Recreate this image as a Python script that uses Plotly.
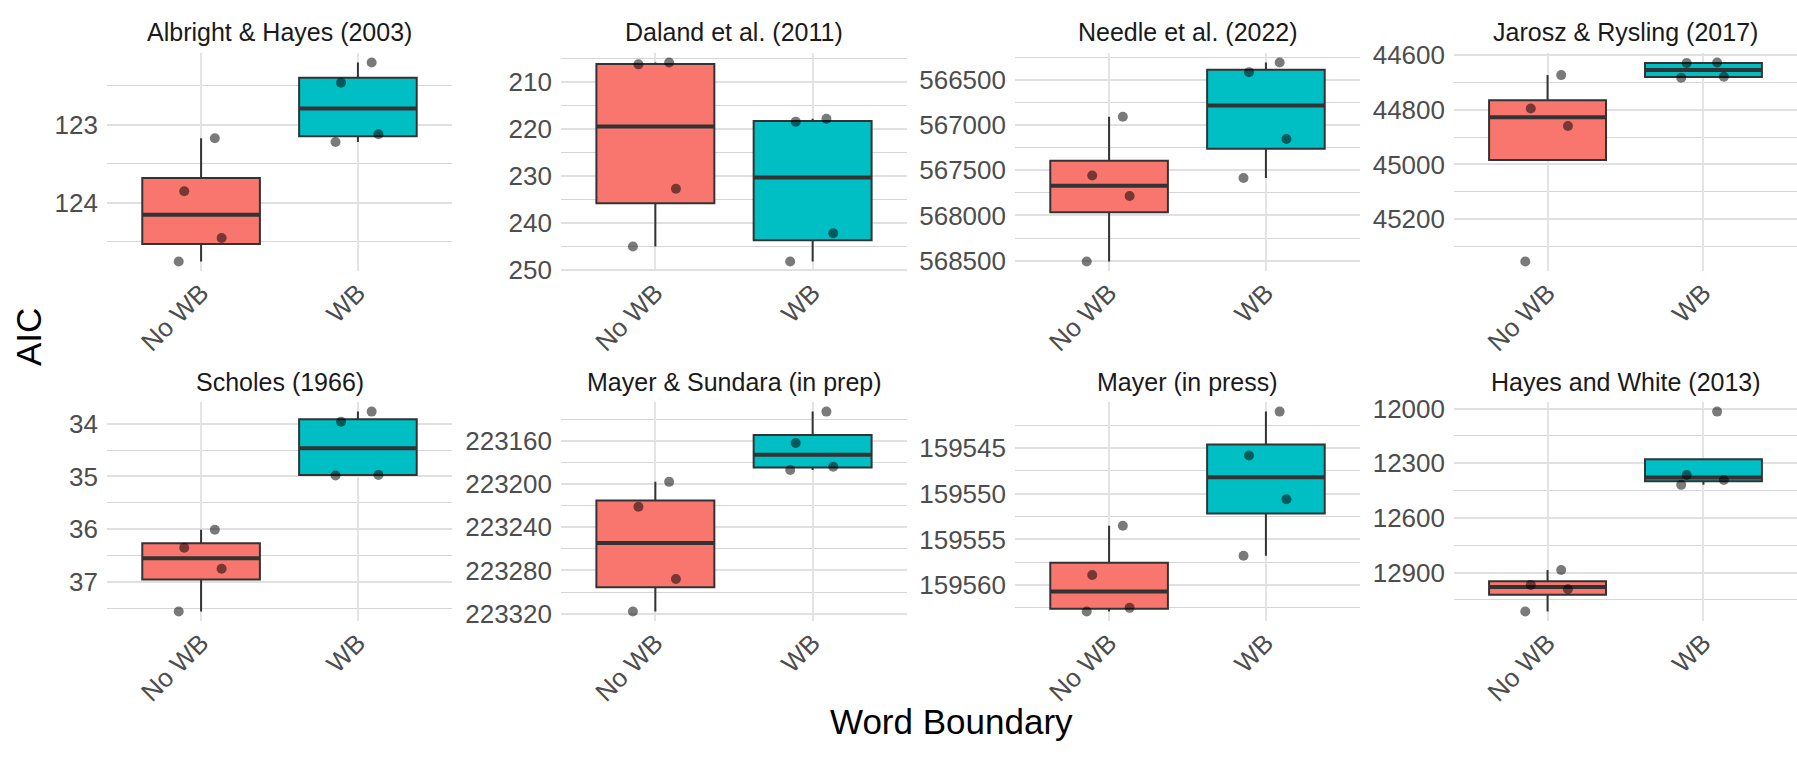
import numpy as np
import plotly.graph_objects as go

# ---------------- data ----------------
studies = [
    "Albright & Hayes (2003)", "Daland et al. (2011)", "Needle et al. (2022)",
    "Jarosz & Rysling (2017)", "Scholes (1966)", "Mayer & Sundara (in prep)",
    "Mayer (in press)", "Hayes and White (2013)",
]
groups = ["No WB", "WB"]

albright_no_wb = [123.17, 123.85, 124.45, 124.75]
albright_wb = [122.20, 122.46, 123.12, 123.22]
daland_no_wb = [205.8, 206.2, 232.7, 245.0]
daland_wb = [217.8, 218.4, 242.2, 248.2]
needle_no_wb = [566907, 567557, 567784, 568510]
needle_wb = [566305, 566412, 567152, 567584]
jarosz_no_wb = [44674, 44796, 44860, 45354]
jarosz_wb = [44628, 44630, 44680, 44684]
scholes_no_wb = [36.01, 36.35, 36.75, 37.56]
scholes_wb = [33.77, 33.96, 34.97, 34.98]
sundara_no_wb = [223198, 223221, 223288, 223318]
sundara_wb = [223133, 223162, 223184, 223187]
mayer_no_wb = [159553.5, 159558.9, 159562.5, 159562.9]
mayer_wb = [159541.0, 159545.8, 159550.6, 159556.8]
hayes_no_wb = [12886, 12968, 12992, 13114]
hayes_wb = [12017, 12365, 12392, 12419]

albright_ticks = [123, 124]
daland_ticks = [210, 220, 230, 240, 250]
needle_ticks = [566500, 567000, 567500, 568000, 568500]
jarosz_ticks = [44600, 44800, 45000, 45200]
scholes_ticks = [34, 35, 36, 37]
sundara_ticks = [223160, 223200, 223240, 223280, 223320]
mayer_ticks = [159545, 159550, 159555, 159560]
hayes_ticks = [12000, 12300, 12600, 12900]

no_wb_sets = [albright_no_wb, daland_no_wb, needle_no_wb, jarosz_no_wb,
              scholes_no_wb, sundara_no_wb, mayer_no_wb, hayes_no_wb]
wb_sets = [albright_wb, daland_wb, needle_wb, jarosz_wb,
           scholes_wb, sundara_wb, mayer_wb, hayes_wb]
tick_sets = [albright_ticks, daland_ticks, needle_ticks, jarosz_ticks,
             scholes_ticks, sundara_ticks, mayer_ticks, hayes_ticks]

# ---------------- styling / layout ----------------
W, H = 1797, 757
FONT = "Liberation Sans, Arial, sans-serif"
colors = ["#F8766D", "#00BFC4"]
col_px = [(107, 452), (561, 907), (1015, 1360), (1454, 1797)]
row_px = [(41, 268), (403, 631)]
BOXW = 0.75


def box_stats(v):
    v = np.sort(np.asarray(v, dtype=float))
    q1, med, q3 = np.percentile(v, [25, 50, 75])
    iqr = q3 - q1
    lo = v[v >= q1 - 1.5 * iqr].min()
    hi = v[v <= q3 + 1.5 * iqr].max()
    return q1, med, q3, lo, hi


fig = go.Figure()
layout_axes = {}
annotations = []

for i, study in enumerate(studies):
    n = i + 1
    s = "" if n == 1 else str(n)
    r, c = divmod(i, 4)
    xa, ya = "x" + s, "y" + s
    sets = [no_wb_sets[i], wb_sets[i]]
    for j, vals in enumerate(sets):
        pos = j + 1
        q1, med, q3, lo, hi = box_stats(vals)
        fig.add_trace(go.Box(
            x=[pos], q1=[q1], median=[med], q3=[q3], lowerfence=[lo], upperfence=[hi],
            orientation="v", width=BOXW, fillcolor=colors[j], whiskerwidth=0,
            line=dict(color="#333333", width=2), boxpoints=False,
            xaxis=xa, yaxis=ya, hoverinfo="skip", showlegend=False))
        fig.add_trace(go.Box(
            x=[pos], q1=[med], median=[med], q3=[med], lowerfence=[med], upperfence=[med],
            orientation="v", width=BOXW, fillcolor="rgba(0,0,0,0)", whiskerwidth=0,
            line=dict(color="#333333", width=4), boxpoints=False,
            xaxis=xa, yaxis=ya, hoverinfo="skip", showlegend=False))
        fig.add_trace(go.Box(
            x=[pos] * len(vals), y=vals, orientation="v", width=BOXW,
            boxpoints="all", jitter=0.45, pointpos=0, whiskerwidth=0,
            fillcolor="rgba(0,0,0,0)", line=dict(color="rgba(0,0,0,0)", width=0),
            marker=dict(color="rgba(0,0,0,0.52)", size=10, line=dict(width=0)),
            xaxis=xa, yaxis=ya, hoverinfo="skip", showlegend=False))

    allv = np.concatenate([np.asarray(v, float) for v in sets])
    lo_all, hi_all = allv.min(), allv.max()
    pad = 0.05 * (hi_all - lo_all)
    ticks = tick_sets[i]
    step = ticks[1] - ticks[0]
    minor_vals = [t - step / 2 for t in ticks] + [ticks[-1] + step / 2]

    x0, x1 = col_px[c]
    y0, y1 = row_px[r]
    layout_axes["xaxis" + s] = dict(
        domain=[x0 / W, x1 / W], anchor=ya, range=[0.4, 2.6],
        tickmode="array", tickvals=[1, 2], ticktext=groups, tickangle=-45,
        tickfont=dict(size=26, color="#4D4D4D", family=FONT),
        showgrid=True, gridcolor="#E4E4E4", gridwidth=2,
        zeroline=False, showline=False, ticks="", fixedrange=True)
    layout_axes["yaxis" + s] = dict(
        domain=[1 - y1 / H, 1 - y0 / H], anchor=xa,
        range=[hi_all + pad, lo_all - pad],
        tickmode="array", tickvals=ticks, ticktext=[str(t) for t in ticks],
        tickfont=dict(size=26, color="#4D4D4D", family=FONT),
        showgrid=True, gridcolor="#E0E0E0", gridwidth=2,
        minor=dict(tickmode="array", tickvals=minor_vals, showgrid=True,
                   gridcolor="#D6D6D6", gridwidth=1, ticks=""),
        zeroline=False, showline=False, ticks="", ticklabelstandoff=8,
        fixedrange=True)
    ty = 20 if r == 0 else 383
    annotations.append(dict(
        text=study, x=(x0 + x1) / 2 / W, y=1 - ty / H, xref="paper", yref="paper",
        xanchor="center", yanchor="middle", showarrow=False,
        font=dict(size=25, color="#1A1A1A", family=FONT)))

annotations.append(dict(
    text="AIC", x=28 / W, y=1 - 336 / H, xref="paper", yref="paper",
    xanchor="center", yanchor="middle", textangle=-90, showarrow=False,
    font=dict(size=35, color="#000000", family=FONT)))
annotations.append(dict(
    text="Word Boundary", x=952 / W, y=1 - 735 / H, xref="paper", yref="paper",
    xanchor="center", yanchor="middle", showarrow=False,
    font=dict(size=35, color="#000000", family=FONT)))

fig.update_layout(
    width=W, height=H, margin=dict(l=0, r=0, t=0, b=0),
    paper_bgcolor="white", plot_bgcolor="white",
    font=dict(family=FONT), boxmode="overlay", showlegend=False,
    annotations=annotations, **layout_axes)

fig.write_html("out.html")
